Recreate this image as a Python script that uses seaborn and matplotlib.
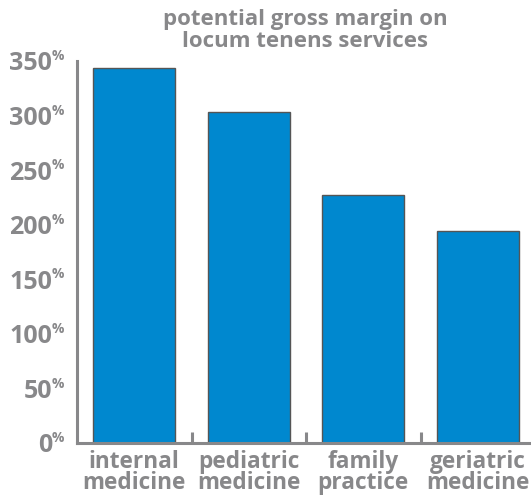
import matplotlib
matplotlib.use("Agg")
import matplotlib.pyplot as plt
import seaborn as sns
import pandas as pd

# chart data
categories = ["internal\nmedicine", "pediatric\nmedicine", "family\npractice", "geriatric\nmedicine"]
margins = [344, 303, 227, 194]
y_ticks = [0, 50, 100, 150, 200, 250, 300, 350]
title = "potential gross margin on\nlocum tenens services"

GRAY = "#88888a"
BLUE = "#0088cf"
FONT = "Open Sans"

sns.set_theme(style="white")
plt.rcParams["font.family"] = [FONT, "DejaVu Sans"]

W, H = 531, 497
dpi = 100
fig = plt.figure(figsize=(W / dpi, H / dpi), dpi=dpi)
# axes box in pixel coordinates: left 77, right 535, top 61, bottom 443
ax = fig.add_axes([77 / W, (H - 443) / H, (535 - 77) / W, (443 - 61) / H])

df = pd.DataFrame({"category": categories, "margin": margins})
sns.barplot(data=df, x="category", y="margin", ax=ax, color=BLUE, width=0.72,
            edgecolor="#555555", linewidth=1.0, saturation=1)

ax.set_ylim(0, 350)
ax.set_xlim(-0.5, len(categories) - 0.5)
ax.set_xlabel("")
ax.set_ylabel("")

for s in ["top", "right"]:
    ax.spines[s].set_visible(False)
for s in ["left", "bottom"]:
    ax.spines[s].set_color(GRAY)
    ax.spines[s].set_linewidth(2.2)

# y axis: ticks pointing inward, labels with a superscript percent sign
ax.set_yticks(y_ticks)
ax.set_yticklabels([str(v) for v in y_ticks])
ax.tick_params(axis="y", direction="in", length=9, width=2.2, color=GRAY,
               pad=18, labelsize=18, labelcolor=GRAY)
for lab in ax.get_yticklabels():
    lab.set_fontweight("bold")
for v in y_ticks:
    ax.annotate("%", xy=(0, v), xycoords=("axes fraction", "data"),
                xytext=(-18, 8.5), textcoords="offset points",
                ha="left", va="top", fontsize=10, color=GRAY, fontweight="bold")

# x axis: category labels, tick marks between the categories
ax.set_xticks(range(len(categories)))
ax.set_xticklabels(categories)
ax.tick_params(axis="x", which="major", length=0, pad=5, labelsize=16.3, labelcolor=GRAY)
for lab in ax.get_xticklabels():
    lab.set_fontweight("bold")
    lab.set_linespacing(0.84)
ax.set_xticks([0.5, 1.5, 2.5], minor=True)
ax.tick_params(axis="x", which="minor", direction="in", length=8, width=2.2,
               color=GRAY, bottom=True)

fig.text(305 / W, 1 - 9 / H, title, ha="center", va="top", fontsize=16,
         fontweight="bold", color=GRAY, linespacing=1.07)

fig.savefig("out.png", dpi=dpi)
